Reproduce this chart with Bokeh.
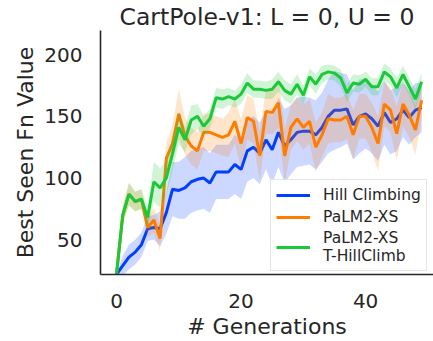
from bokeh.plotting import figure
from bokeh.models import Range1d, FixedTicker, Legend, LegendItem, ColumnDataSource
from bokeh.embed import file_html
from bokeh.resources import INLINE

generations = list(range(50))

hill_mean = [22, 29, 36, 40, 46, 59, 60, 59, 72, 91, 90, 92, 97, 99, 100, 96, 105, 105, 105, 111,
             107, 122, 125, 120, 131, 123, 137, 126, 131, 137, 138, 138, 135, 141, 150, 155, 155, 156, 143, 150,
             152, 148, 142, 153, 145, 148, 155, 149, 155, 157]
hill_err = [1, 8, 10, 10, 10, 10, 10, 14, 17, 22, 23, 25, 25, 25, 25, 24, 22, 22, 22, 24,
            24, 25, 25, 25, 24, 28, 28, 30, 28, 28, 28, 27, 28, 28, 30, 32, 30, 28, 28, 30,
            28, 28, 28, 26, 26, 26, 22, 22, 22, 20]

palm_mean = [22, 70, 87, 81, 83, 60, 66, 51, 116, 128, 152, 134, 126, 122, 137, 137, 135, 133, 135, 146,
             128, 149, 146, 118, 154, 153, 161, 118, 141, 148, 141, 146, 125, 135, 148, 147, 147, 150, 135, 150,
             150, 141, 128, 160, 155, 136, 160, 151, 139, 163]
palm_err = [1, 8, 9, 8, 8, 8, 10, 10, 12, 15, 20, 15, 15, 15, 15, 15, 15, 15, 18, 18,
            20, 18, 18, 20, 18, 18, 20, 22, 18, 18, 18, 18, 20, 18, 20, 18, 18, 18, 20, 18,
            18, 20, 22, 18, 18, 22, 18, 18, 20, 15]

thc_mean = [22, 70, 87, 81, 83, 68, 97, 92, 100, 120, 141, 131, 147, 150, 142, 148, 165, 164, 166, 164,
            168, 177, 172, 172, 171, 172, 178, 171, 168, 176, 167, 182, 176, 184, 186, 185, 181, 169, 177, 176,
            180, 174, 174, 186, 182, 173, 184, 174, 164, 178]
thc_err = [1, 6, 9, 8, 8, 9, 16, 16, 14, 14, 13, 10, 12, 10, 8, 8, 8, 8, 7, 7,
           8, 8, 7, 7, 7, 8, 8, 8, 8, 8, 8, 7, 8, 7, 6, 6, 7, 7, 7, 7,
           6, 7, 7, 7, 7, 8, 7, 7, 8, 7]

series_names = ["Hill Climbing", "PaLM2-XS", "PaLM2-XS\nT-HillClimb"]
series_colors = ["#023eff", "#ff7c00", "#1ac938"]
x_ticks = [0, 20, 40]
y_ticks = [50, 100, 150, 200]

FONT = "DejaVu Sans"
TXT = "#262626"

p = figure(width=433, height=341, output_backend="svg", toolbar_location=None,
           x_range=Range1d(-2.57, 50.9), y_range=Range1d(21.9, 219.5),
           min_border_left=100, min_border_right=0, min_border_top=29, min_border_bottom=10)
p.title.text = "CartPole-v1: L = 0, U = 0"
p.title.text_font = FONT
p.title.text_font_size = "23.5px"
p.title.text_font_style = "normal"
p.title.text_color = TXT
p.title.align = "center"
p.title.standoff = 0
p.title.offset = 0

p.outline_line_color = None
p.xgrid.visible = False
p.ygrid.visible = False
p.background_fill_color = "white"
p.border_fill_color = "white"

for ax in (p.xaxis[0], p.yaxis[0]):
    ax.axis_line_color = TXT
    ax.axis_line_width = 1.6
    ax.major_tick_line_color = None
    ax.minor_tick_line_color = None
    ax.major_label_text_font = FONT
    ax.major_label_text_font_size = "20px"
    ax.major_label_text_color = TXT
    ax.axis_label_text_font = FONT
    ax.axis_label_text_font_size = "22px"
    ax.axis_label_text_font_style = "normal"
    ax.axis_label_text_color = TXT

p.xaxis.ticker = FixedTicker(ticks=x_ticks)
p.yaxis.ticker = FixedTicker(ticks=y_ticks)
p.xaxis.axis_label = "# Generations"
p.yaxis.axis_label = "Best Seen Fn Value"
p.xaxis.major_label_standoff = 13
p.xaxis.axis_label_standoff = 3
p.yaxis.major_label_standoff = 12
p.yaxis.axis_label_standoff = 3

items = []
for name, color, mean, err in zip(series_names, series_colors,
                                   [hill_mean, palm_mean, thc_mean],
                                   [hill_err, palm_err, thc_err]):
    src = ColumnDataSource(dict(
        x=generations, y=mean,
        lo=[m - e for m, e in zip(mean, err)],
        hi=[m + e for m, e in zip(mean, err)]))
    p.varea(x="x", y1="lo", y2="hi", source=src, fill_color=color, fill_alpha=0.2)
    r = p.line(x="x", y="y", source=src, line_color=color, line_width=3)
    items.append(LegendItem(label=name, renderers=[r]))

legend = Legend(items=items, location=(170, 3))
legend.label_text_font = FONT
legend.label_text_font_size = "15.5px"
legend.label_text_color = TXT
legend.glyph_width = 34
legend.label_standoff = 13
legend.padding = 5
legend.spacing = 2
legend.margin = 0
legend.border_line_color = "#cccccc"
legend.border_line_width = 1
legend.background_fill_alpha = 0.85
p.add_layout(legend, "center")

open("out.html", "w").write(file_html(p, INLINE))
